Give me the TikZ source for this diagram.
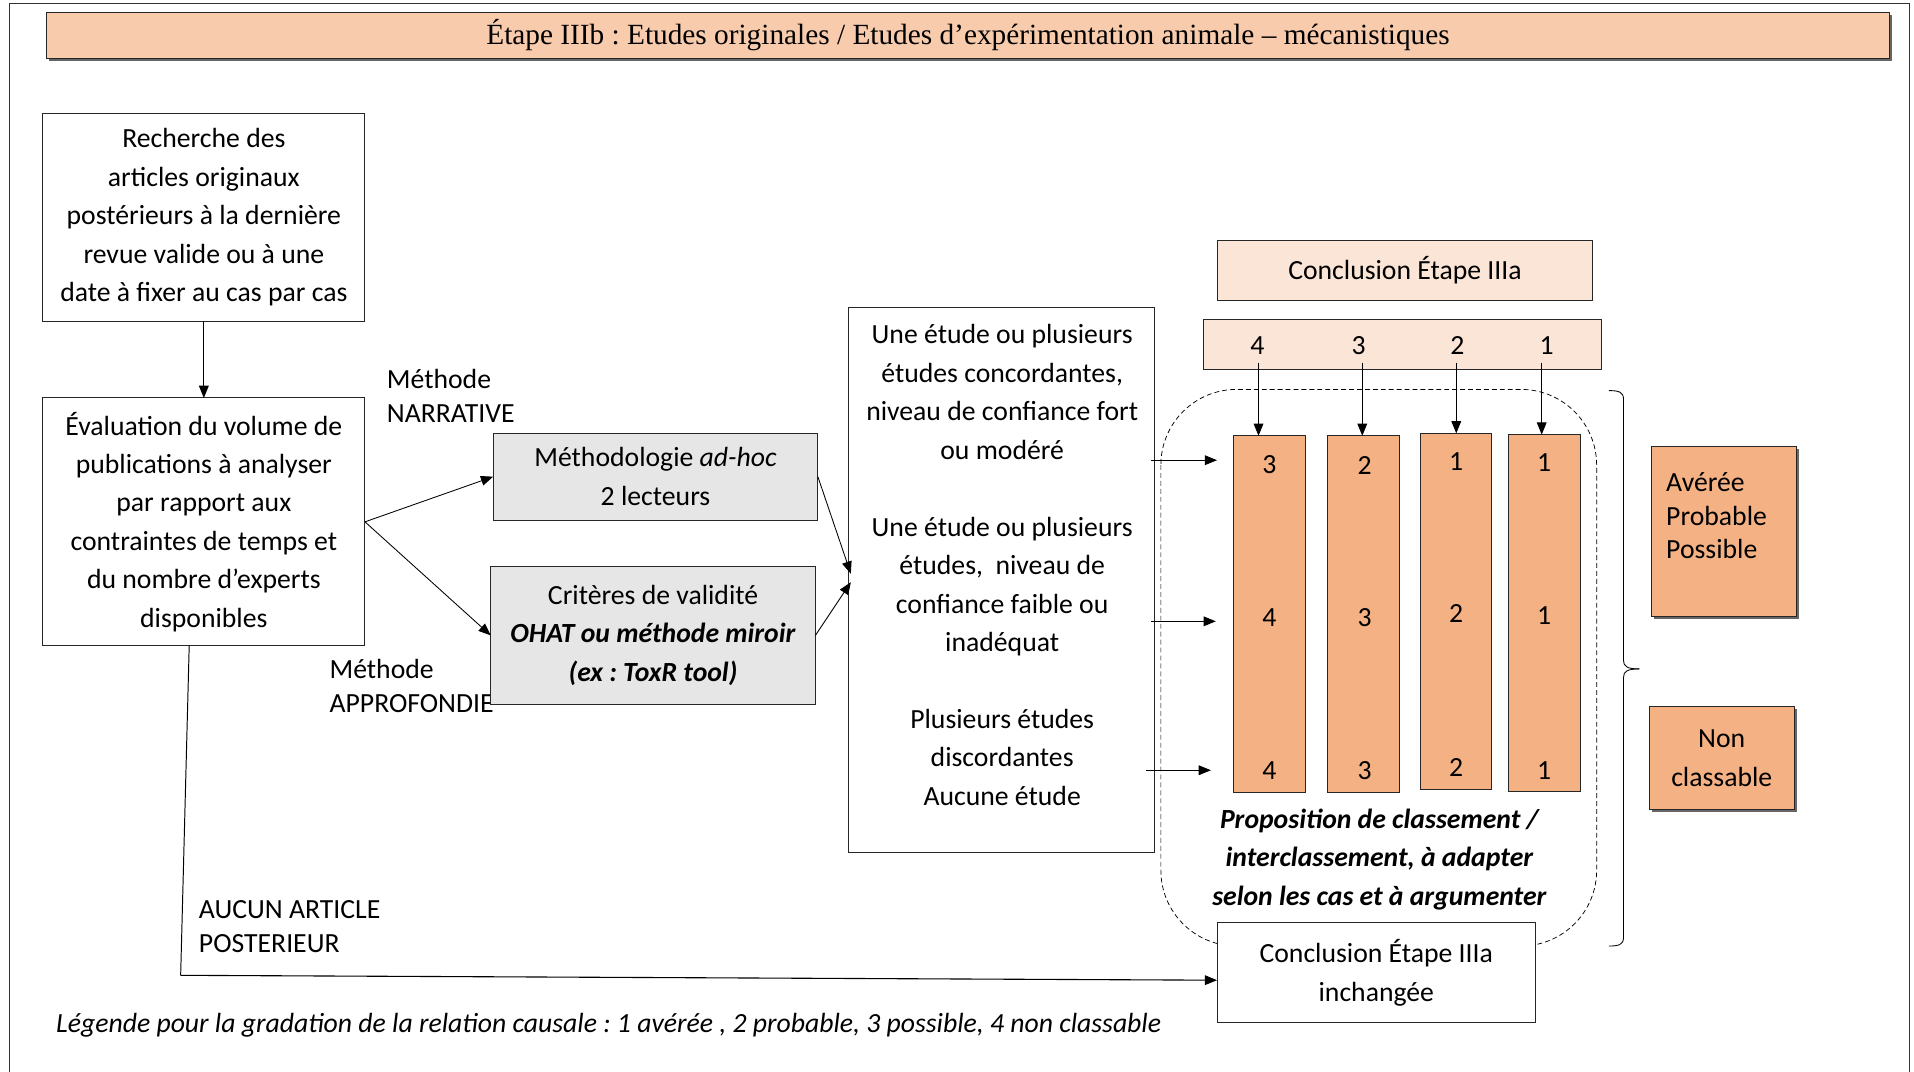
\documentclass[tikz,border=0pt]{standalone}
\usepackage{fontspec}
\setmainfont{Carlito}
\newfontfamily\titlefont{Liberation Serif}
\usetikzlibrary{arrows.meta,calc,shadows}
\definecolor{titlefill}{HTML}{F8CBAD}
\definecolor{palepeach}{HTML}{FBE5D6}
\definecolor{orangefill}{HTML}{F4B183}
\definecolor{greyfill}{HTML}{E7E6E6}
\frenchspacing

\begin{document}
\begin{tikzpicture}[x=1pt,y=-1pt,
  every node/.style={inner sep=0pt, outer sep=0pt},
  body/.style={font=\fontsize{22.7}{31.5}\selectfont},
  tight/.style={font=\fontsize{22.7}{28}\selectfont},
  box/.style={draw=black!85, line width=0.8pt, rectangle, body, align=center},
  shade/.style={drop shadow={shadow xshift=2pt, shadow yshift=-2pt, fill=black, opacity=0.6}},
  col/.style={box, fill=orangefill, minimum width=59pt},
  num/.style={body},
  arr/.style={-{Triangle[length=10pt,width=8pt]}, line width=0.7pt},
]
\useasboundingbox (0,0) rectangle (1568,878);

% outer frame
\draw[line width=0.8pt, black!80] (8,878) -- (8,3) -- (1564,3) -- (1564,878);

% title bar
\node[box, shade, fill=titlefill, minimum width=1510pt, minimum height=38pt,
      font=\titlefont\fontsize{24}{28}\selectfont] (title) at (793,29)
  {Étape IIIb : Etudes originales / Etudes d’expérimentation animale – mécanistiques};

% left column
\node[box, minimum width=264pt, minimum height=170pt] (R) at (167,178)
  {Recherche des\\articles originaux\\postérieurs à la dernière\\revue valide ou à une\\date à fixer au cas par cas};
\node[box, minimum width=264pt, minimum height=203pt] (E) at (167,427.5)
  {Évaluation du volume de\\publications à analyser\\par rapport aux\\contraintes de temps et\\du nombre d’experts\\disponibles};
\draw[arr] (R.south) -- (E.north);

\node[tight, align=left, anchor=west] (narr) at (317,324) {Méthode\\NARRATIVE};
\node[tight, align=left, anchor=west] (appr) at (270,562) {Méthode\\APPROFONDIE};

% method boxes
\node[box, fill=greyfill, minimum width=266pt, minimum height=71pt] (M) at (537,390.5)
  {Méthodologie \textit{ad-hoc}\\2 lecteurs};
\node[box, fill=greyfill, minimum width=266pt, minimum height=113pt] (C) at (535,520.5)
  {Critères de validité\\\textbf{\textit{OHAT ou méthode miroir}}\\\textbf{\textit{(ex : ToxR tool)}}};
\draw[arr] (E.east) -- (M.west);
\draw[arr] (E.east) -- (C.west);

% evidence box
\node[box, minimum width=251pt, minimum height=446pt] (U) at (820.5,475) {};
\node[body, align=center] (Utxt) at (821,463)
  {Une étude ou plusieurs\\études concordantes,\\niveau de confiance fort\\ou modéré\\[31.5pt]
   Une étude ou plusieurs\\études,\ \ niveau de\\confiance faible ou\\inadéquat\\[31.5pt]
   Plusieurs études\\discordantes\\Aucune étude};
\draw[arr] (M.east) -- ($(U.west)+(2,-5)$);
\draw[arr] (C.east) -- ($(U.west)+(2,2)$);

% conclusion of step IIIa
\node[box, fill=palepeach, minimum width=308pt, minimum height=49pt] (CT) at (1151,221.5)
  {Conclusion Étape IIIa};
\node[box, fill=palepeach, minimum width=326pt, minimum height=41pt] (NB) at (1149,282.5) {};
\node[num] (t4) at (1030,283) {4};
\node[num] (t3) at (1113,283) {3};
\node[num] (t2) at (1194,283) {2};
\node[num] (t1) at (1267,283) {1};

% proposal area
\draw[dashed, dash pattern=on 4pt off 2.5pt, line width=0.6pt, rounded corners=62pt]
  (951,319) rectangle (1308,775);

\node[col, minimum height=292pt] (c1) at (1040,503) {};
\node[col, minimum height=292pt] (c2) at (1117,503) {};
\node[col, minimum height=292pt, minimum width=58pt] (c3) at (1193,501) {};
\node[col, minimum height=292pt] (c4) at (1265.5,502) {};

\node[num] (n11) at (1040,381) {3};
\node[num] (n12) at (1040,506) {4};
\node[num] (n13) at (1040,631) {4};
\node[num] (n21) at (1118,381) {2};
\node[num] (n22) at (1118,506) {3};
\node[num] (n23) at (1118,631) {3};
\node[num] (n31) at (1193,378) {1};
\node[num] (n32) at (1193,503) {2};
\node[num] (n33) at (1193,629) {2};
\node[num] (n41) at (1265,379) {1};
\node[num] (n42) at (1265,504) {1};
\node[num] (n43) at (1265,631) {1};

% links from the step IIIa grades down to the columns
\coordinate (s4) at (1031,297);
\coordinate (s3) at (1116,297);
\coordinate (s2) at (1193,297);
\coordinate (s1) at (1263,297);
\draw[arr] (s4) -- (s4 |- c1.north);
\draw[arr] (s3) -- (s3 |- c2.north);
\draw[arr] (s2) -- (s2 |- c3.north);
\draw[arr] (s1) -- (s1 |- c4.north);

\coordinate (a1) at (997,377);
\coordinate (a2) at (996,509);
\coordinate (a3) at (992,631);
\draw[arr] ($(a1 -| U.east)+(-3,0)$) -- (a1);
\draw[arr] ($(a2 -| U.east)+(-3,0)$) -- (a2);
\draw[arr] ($(a3 -| U.east)+(-7,0)$) -- (a3);

\node[font=\bfseries\itshape\fontsize{22.7}{31.5}\selectfont, align=center] (prop) at (1130,704)
  {Proposition de classement /\\interclassement, à adapter\\selon les cas et à argumenter};

% unchanged conclusion
\node[box, fill=white, minimum width=261pt, minimum height=82pt] (I) at (1127.5,797)
  {Conclusion Étape IIIa\\inchangée};

% right brace
\draw[line width=0.7pt] (1318,320) .. controls (1326,320) and (1330,321) .. (1330,327)
  -- (1330,541) .. controls (1330,546) and (1333,548) .. (1343,548);
\draw[line width=0.7pt] (1343,548) .. controls (1333,548) and (1330,550) .. (1330,555)
  -- (1330,768) .. controls (1330,774) and (1326,775) .. (1318,775);

% causal categories
\node[box, shade, fill=orangefill, minimum width=119pt, minimum height=139pt] (AV) at (1412.5,435.5) {};
\node[font=\fontsize{22.7}{27.5}\selectfont, align=left, anchor=west] (AVtxt) at (1365,422.5)
  {Avérée\\Probable\\Possible};
\node[box, shade, fill=orangefill, minimum width=119pt, minimum height=84pt] (NC) at (1410.5,621)
  {Non\\classable};

% no new article path
\node[tight, align=left, anchor=west] (aucun) at (163,759) {AUCUN ARTICLE\\POSTERIEUR};
\coordinate (corner) at (148,799);
\draw[line width=0.8pt] ($(E.south west)+(120,0)$) -- (corner);
\draw[arr, line width=0.9pt] (corner) -- ($(I.west)+(0,6)$);

% legend
\node[font=\itshape\fontsize{22.7}{27}\selectfont, anchor=west] (legend) at (46,840)
  {Légende pour la gradation de la relation causale : 1 avérée , 2 probable, 3 possible, 4 non classable};

\end{tikzpicture}
\end{document}
